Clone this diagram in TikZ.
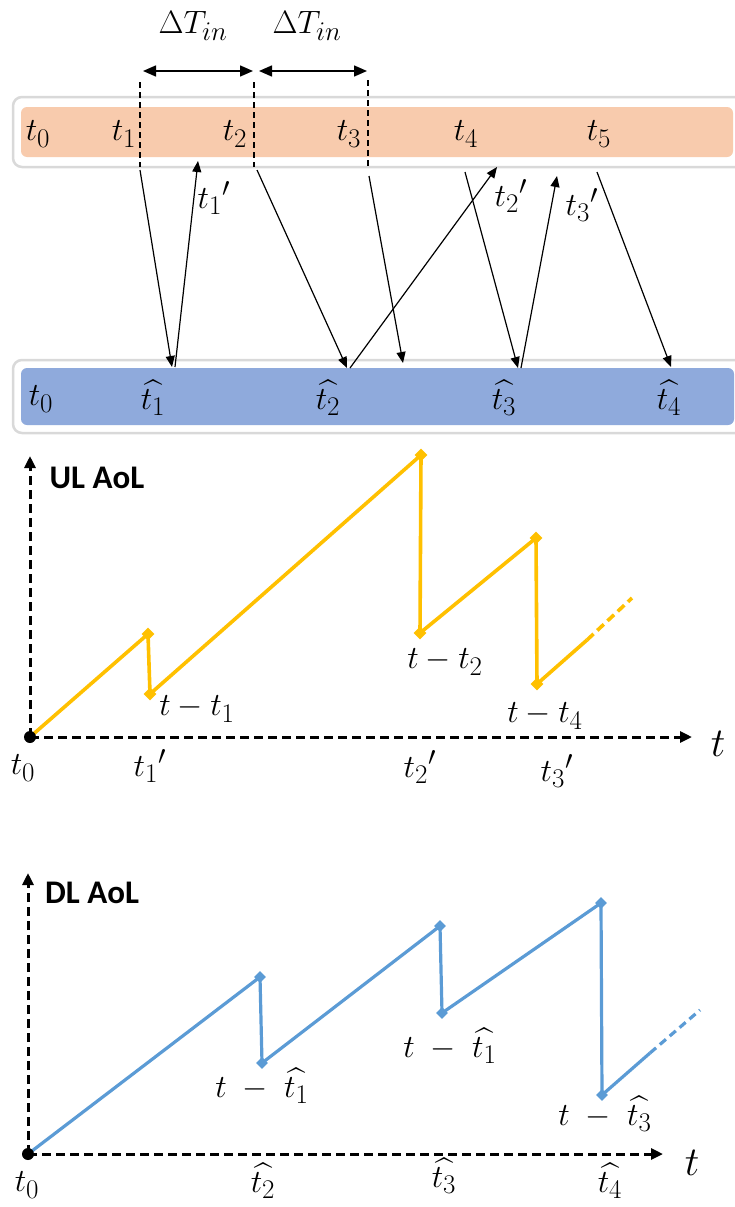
\documentclass[tikz,border=0pt]{standalone}
\usepackage{amsmath}
\usepackage{amssymb}
\usepackage{fontspec}
\newfontfamily\aolfont{Carlito}
\usetikzlibrary{arrows.meta,shapes.geometric}

\definecolor{ulband}{HTML}{F8CBAD}
\definecolor{dlband}{HTML}{8FAADC}
\definecolor{ulcurve}{HTML}{FFC000}
\definecolor{dlcurve}{HTML}{5B9BD5}

\tikzset{
  lbl/.style={inner sep=0pt, font=\fontsize{24.88}{30}\selectfont, scale=1.3, transform shape},
  axislbl/.style={inner sep=0pt, font=\fontsize{24.88}{30}\selectfont, scale=1.65, transform shape},
  aoltitle/.style={inner sep=0pt, font=\aolfont\bfseries\fontsize{33}{38}\selectfont},
  bandframe/.style={fill=white, draw=black!15, line width=2.5pt, rounded corners=9pt},
  msg/.style={-{Triangle[length=11pt,width=9pt]}, line width=1.2pt},
  gapspan/.style={{Triangle[length=13pt,width=11pt]}-{Triangle[length=13pt,width=11pt]}, line width=1.5pt},
  markline/.style={dash pattern=on 6pt off 4pt, line width=1.5pt},
  aolaxis/.style={-{Triangle[length=12pt,width=11pt]}, dash pattern=on 9pt off 5pt, line width=3pt},
  ulpt/.style={diamond, fill=ulcurve, inner sep=0pt, minimum size=13pt},
  dlpt/.style={diamond, fill=dlcurve, inner sep=0pt, minimum size=12pt},
}

\begin{document}
\begin{tikzpicture}[x=1pt,y=-1pt]
\useasboundingbox (0,0) rectangle (735,1207);

% Bands
\draw[bandframe] (13,97) rectangle (760,167);
\fill[ulband, rounded corners=6pt] (21,107) rectangle (733,157);
\draw[bandframe] (13,360) rectangle (760,433);
\fill[dlband, rounded corners=6pt] (21,368) rectangle (734,425);

% Band labels
\node[lbl] (t0) at (38,134) {$t_0$};
\node[lbl] (t1) at (124,134) {$t_1$};
\node[lbl] (t2) at (235,134) {$t_2$};
\node[lbl] (t3) at (349,134) {$t_3$};
\node[lbl] (t4) at (466,134) {$t_4$};
\node[lbl] (t5) at (599,134) {$t_5$};

\node[lbl] (h0) at (41,399) {$t_0$};
\node[lbl] (h1) at (153,398) {$\widehat{t_1}$};
\node[lbl] (h2) at (328,398) {$\widehat{t_2}$};
\node[lbl] (h3) at (504,398) {$\widehat{t_3}$};
\node[lbl] (h4) at (669,398) {$\widehat{t_4}$};

% Update intervals
\coordinate (d1t) at (140,82);
\coordinate (d1b) at (140,167);
\coordinate (d2t) at (254,82);
\coordinate (d2b) at (254,167);
\coordinate (d3t) at (368,80);
\coordinate (d3b) at (368,167);
\draw[markline] (d1t) -- (d1b);
\draw[markline] (d2t) -- (d2b);
\draw[markline] (d3t) -- (d3b);

\coordinate (g1a) at (143,71);
\coordinate (g1b) at (253,71);
\coordinate (g2a) at (259,71);
\coordinate (g2b) at (367,71);
\draw[gapspan] (g1a) -- (g1b);
\draw[gapspan] (g2a) -- (g2b);
\node[lbl] (dT1) at (193,26) {$\Delta T_{in}$};
\node[lbl] (dT2) at (307,26) {$\Delta T_{in}$};

% Messages
\coordinate (s1) at (140,170);
\coordinate (r1) at (172,367);
\coordinate (a1) at (175,367);
\coordinate (b1) at (198,161);
\coordinate (s2) at (257,170);
\coordinate (r2) at (347,368);
\coordinate (a2) at (350,368);
\coordinate (b2) at (497,167);
\coordinate (s3) at (369,176);
\coordinate (r3) at (403,363);
\coordinate (s4) at (465,172);
\coordinate (r4) at (518,368);
\coordinate (a3) at (521,368);
\coordinate (b3) at (557,176);
\coordinate (s5) at (597,172);
\coordinate (r5) at (671,367);

\draw[msg] (s1) -- (r1);
\draw[msg] (a1) -- (b1);
\draw[msg] (s2) -- (r2);
\draw[msg] (a2) -- (b2);
\draw[msg] (s3) -- (r3);
\draw[msg] (s4) -- (r4);
\draw[msg] (a3) -- (b3);
\draw[msg] (s5) -- (r5);

\node[lbl] (p1) at (214,198) {${t_1}'$};
\node[lbl] (p2) at (511,196) {${t_2}'$};
\node[lbl] (p3) at (582,205) {${t_3}'$};

% UL AoL
\coordinate (uo) at (30,737);
\coordinate (uy) at (30,456);
\coordinate (ux) at (692,737);
\draw[aolaxis] (uo) -- (uy);
\draw[aolaxis] (uo) -- (ux);
\node[aoltitle] (ult) at (97,478) {UL AoL};
\node[axislbl] (utl) at (718,744) {$t$};

\coordinate (u1) at (148,634);
\coordinate (u2) at (150,694);
\coordinate (u3) at (421,455);
\coordinate (u4) at (420,633);
\coordinate (u5) at (536,538);
\coordinate (u6) at (537,684);
\coordinate (u7) at (587,640);
\coordinate (u8) at (632,598);
\draw[ulcurve, line width=3.6pt, line join=round]
  (uo) -- (u1) -- (u2) -- (u3) -- (u4) -- (u5) -- (u6) -- (u7);
\draw[ulcurve, line width=3.6pt, dash pattern=on 9pt off 5pt] (u7) -- (u8);
\node[ulpt] at (u1) {};
\node[ulpt] at (u2) {};
\node[ulpt] at (u3) {};
\node[ulpt] at (u4) {};
\node[ulpt] at (u5) {};
\node[ulpt] at (u6) {};
\fill (uo) circle (6pt);

\node[lbl] (ut0) at (23,768) {$t_0$};
\node[lbl] (ut1) at (150,766) {${t_1}'$};
\node[lbl] (ut2) at (420,767) {${t_2}'$};
\node[lbl] (ut3) at (557,771) {${t_3}'$};
\node[lbl] (ua1) at (197,709) {$t-t_1$};
\node[lbl] (ua2) at (445,662) {$t-t_2$};
\node[lbl] (ua3) at (545,716) {$t-t_4$};

% DL AoL
\coordinate (do) at (28,1154);
\coordinate (dy) at (28,873);
\coordinate (dx) at (663,1154);
\draw[aolaxis] (do) -- (dy);
\draw[aolaxis] (do) -- (dx);
\node[aoltitle] (dlt) at (92,893) {DL AoL};
\node[axislbl] (dtl) at (692,1163) {$t$};

\coordinate (v1) at (260,977);
\coordinate (v2) at (262,1063);
\coordinate (v3) at (440,926);
\coordinate (v4) at (442,1013);
\coordinate (v5) at (601,903);
\coordinate (v6) at (602,1095);
\coordinate (v7) at (650,1053);
\coordinate (v8) at (700,1010);
\draw[dlcurve, line width=3.2pt, line join=round]
  (do) -- (v1) -- (v2) -- (v3) -- (v4) -- (v5) -- (v6) -- (v7);
\draw[dlcurve, line width=3.2pt, dash pattern=on 8pt off 5pt] (v7) -- (v8);
\node[dlpt] at (v1) {};
\node[dlpt] at (v2) {};
\node[dlpt] at (v3) {};
\node[dlpt] at (v4) {};
\node[dlpt] at (v5) {};
\node[dlpt] at (v6) {};
\fill (do) circle (6pt);

\node[lbl] (dt0) at (27,1185) {$t_0$};
\node[lbl] (dt2) at (263,1181) {$\widehat{t_2}$};
\node[lbl] (dt3) at (444,1176) {$\widehat{t_3}$};
\node[lbl] (dt4) at (610,1181) {$\widehat{t_4}$};
\node[lbl] (da1) at (262,1086) {$t\;-\;\widehat{t_1}$};
\node[lbl] (da2) at (450,1046) {$t\;-\;\widehat{t_1}$};
\node[lbl] (da3) at (605,1114) {$t\;-\;\widehat{t_3}$};
\end{tikzpicture}
\end{document}
